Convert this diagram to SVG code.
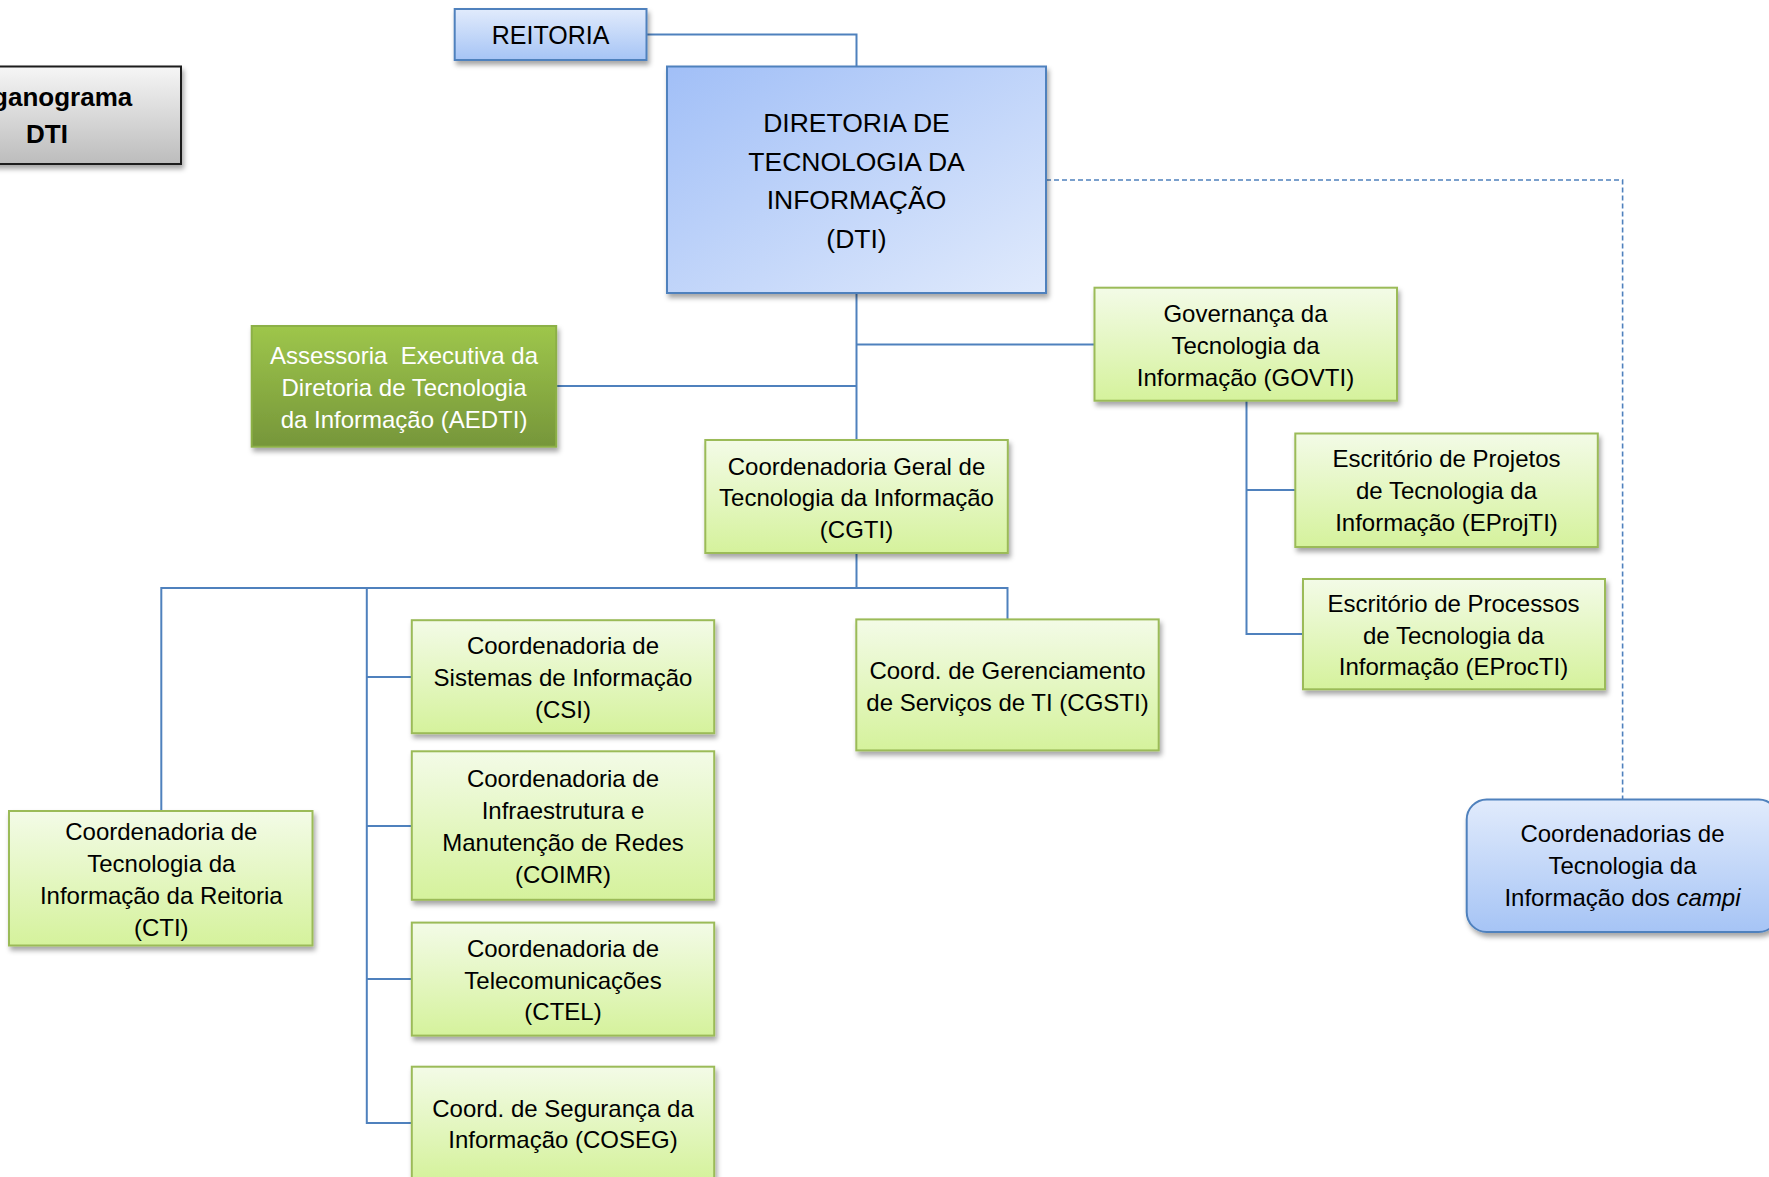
<svg xmlns="http://www.w3.org/2000/svg" width="1769" height="1177" viewBox="0 0 1769 1177">
<defs>
<linearGradient id="gGreen" x1="0" y1="0" x2="0" y2="1"><stop offset="0" stop-color="#f3fbe7"/><stop offset="1" stop-color="#d5f29c"/></linearGradient>
<linearGradient id="gDark" x1="0" y1="0" x2="0" y2="1"><stop offset="0" stop-color="#9ec64b"/><stop offset="1" stop-color="#76963a"/></linearGradient>
<linearGradient id="gDTI" x1="0" y1="0" x2="1" y2="1"><stop offset="0" stop-color="#a1bff7"/><stop offset="1" stop-color="#e0eafc"/></linearGradient>
<linearGradient id="gBlueV" x1="0" y1="0" x2="0" y2="1"><stop offset="0" stop-color="#e1ebfc"/><stop offset="1" stop-color="#a6c4f5"/></linearGradient>
<linearGradient id="gGray" x1="0" y1="0" x2="0" y2="1"><stop offset="0" stop-color="#f6f6f6"/><stop offset="1" stop-color="#bcbcbc"/></linearGradient>
<filter id="sh" x="-10%" y="-10%" width="125%" height="135%"><feDropShadow dx="2" dy="4" stdDeviation="2.5" flood-color="#000" flood-opacity="0.35"/></filter>
</defs>
<style>
.t{font-family:"Liberation Sans",Arial,sans-serif;font-size:24px;fill:#000;text-anchor:middle}
.w{fill:#fff}
.big{font-size:26.5px}
.green{fill:url(#gGreen);stroke:#9bbb59;stroke-width:2;filter:url(#sh)}
.blue{stroke:#4f81bd;stroke-width:2;filter:url(#sh)}
.con{fill:none;stroke:#4f81bd;stroke-width:2}
.dash{fill:none;stroke:#4f81bd;stroke-width:1.6;stroke-dasharray:5 3}
</style>
<rect width="1769" height="1177" fill="#fff"/>

<g id="connectors">
<path class="con" d="M646.5,34.5 H856.5 V66.5"/>
<path class="con" d="M856.5,293 V440"/>
<path class="con" d="M856.5,344.5 H1094.5"/>
<path class="con" d="M556,386 H856.5"/>
<path class="con" d="M1246.5,401 V634 H1303"/>
<path class="con" d="M1246.5,490 H1295"/>
<path class="con" d="M856.5,553 V588 M161.3,811 V588 H1007.5 V619.4"/>
<path class="con" d="M366.8,588 V1123 H411.8 M366.8,677 H411.8 M366.8,826 H411.8 M366.8,979 H411.8"/>
<path class="dash" d="M1046,180 H1622.6 V800"/>
</g>

<g id="organograma">
<rect x="-100" y="66.5" width="281" height="97.5" fill="url(#gGray)" stroke="#1a1a1a" stroke-width="2" filter="url(#sh)"/>
<text class="t" style="font-weight:bold;font-size:26px" x="47" y="106">Organograma</text>
<text class="t" style="font-weight:bold;font-size:26px" x="47" y="143">DTI</text>
</g>

<g id="reitoria">
<rect class="blue" x="454.7" y="9" width="191.8" height="51" fill="url(#gBlueV)"/>
<text class="t" style="font-size:25px" x="550.6" y="44">REITORIA</text>
</g>

<g id="dti">
<rect class="blue" x="667" y="66.5" width="379" height="226.5" fill="url(#gDTI)"/>
<text class="t big" x="856.5" y="132">DIRETORIA DE</text>
<text class="t big" x="856.5" y="170.5">TECNOLOGIA DA</text>
<text class="t big" x="856.5" y="209">INFORMAÇÃO</text>
<text class="t big" x="856.5" y="248">(DTI)</text>
</g>

<g id="aedti">
<rect x="251.7" y="326" width="304.5" height="120.7" fill="url(#gDark)" stroke="#8cb047" stroke-width="2" filter="url(#sh)"/>
<text class="t w" xml:space="preserve" x="404" y="364">Assessoria  Executiva da</text>
<text class="t w" x="404" y="396">Diretoria de Tecnologia</text>
<text class="t w" x="404" y="428">da Informação (AEDTI)</text>
</g>

<g id="govti">
<rect class="green" x="1094.5" y="287.7" width="302.5" height="113"/>
<text class="t" x="1245.5" y="322">Governança da</text>
<text class="t" x="1245.5" y="354">Tecnologia da</text>
<text class="t" x="1245.5" y="385.5">Informação (GOVTI)</text>
</g>

<g id="cgti">
<rect class="green" x="705.3" y="440" width="302.5" height="113"/>
<text class="t" x="856.5" y="474.5">Coordenadoria Geral de</text>
<text class="t" x="856.5" y="506">Tecnologia da Informação</text>
<text class="t" x="856.5" y="537.5">(CGTI)</text>
</g>

<g id="eprojti">
<rect class="green" x="1295.3" y="433.5" width="302.5" height="113.5"/>
<text class="t" x="1446.5" y="466.5">Escritório de Projetos</text>
<text class="t" x="1446.5" y="499">de Tecnologia da</text>
<text class="t" x="1446.5" y="530.5">Informação (EProjTI)</text>
</g>

<g id="eprocti">
<rect class="green" x="1303" y="579" width="302" height="110.3"/>
<text class="t" x="1453.5" y="612">Escritório de Processos</text>
<text class="t" x="1453.5" y="643.5">de Tecnologia da</text>
<text class="t" x="1453.5" y="675">Informação (EProcTI)</text>
</g>

<g id="cgsti">
<rect class="green" x="856.3" y="619.4" width="302.4" height="131"/>
<text class="t" x="1007.5" y="678.5">Coord. de Gerenciamento</text>
<text class="t" x="1007.5" y="711">de Serviços de TI (CGSTI)</text>
</g>

<g id="csi">
<rect class="green" x="411.8" y="620.2" width="302.4" height="113"/>
<text class="t" x="563" y="653.5">Coordenadoria de</text>
<text class="t" x="563" y="685.5">Sistemas de Informação</text>
<text class="t" x="563" y="718">(CSI)</text>
</g>

<g id="coimr">
<rect class="green" x="411.8" y="751.3" width="302.4" height="148.5"/>
<text class="t" x="563" y="787">Coordenadoria de</text>
<text class="t" x="563" y="818.5">Infraestrutura e</text>
<text class="t" x="563" y="851">Manutenção de Redes</text>
<text class="t" x="563" y="882.5">(COIMR)</text>
</g>

<g id="ctel">
<rect class="green" x="411.8" y="922.6" width="302.4" height="113"/>
<text class="t" x="563" y="957">Coordenadoria de</text>
<text class="t" x="563" y="988.5">Telecomunicações</text>
<text class="t" x="563" y="1020">(CTEL)</text>
</g>

<g id="coseg">
<rect class="green" x="411.8" y="1066.7" width="302.4" height="113"/>
<text class="t" x="563" y="1116.5">Coord. de Segurança da</text>
<text class="t" x="563" y="1148">Informação (COSEG)</text>
</g>

<g id="cti">
<rect class="green" x="9" y="811" width="303.5" height="134.5"/>
<text class="t" x="161.3" y="840">Coordenadoria de</text>
<text class="t" x="161.3" y="871.5">Tecnologia da</text>
<text class="t" x="161.3" y="904">Informação da Reitoria</text>
<text class="t" x="161.3" y="935.5">(CTI)</text>
</g>

<g id="campi">
<rect x="1466.7" y="799.5" width="312" height="132.5" rx="20" ry="20" fill="url(#gBlueV)" stroke="#4f81bd" stroke-width="2" filter="url(#sh)"/>
<text class="t" x="1622.5" y="842">Coordenadorias de</text>
<text class="t" x="1622.5" y="873.5">Tecnologia da</text>
<text class="t" x="1622.5" y="905.5">Informação dos <tspan font-style="italic">campi</tspan></text>
</g>
</svg>
